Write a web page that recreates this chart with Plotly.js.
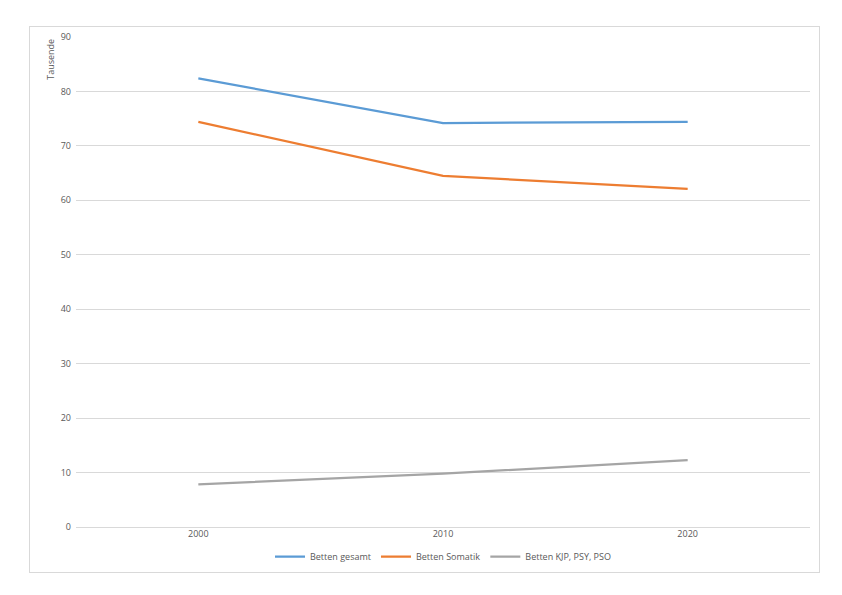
<!DOCTYPE html>
<html>
<head>
<meta charset="utf-8">
<script src="https://cdn.plot.ly/plotly-3.0.1.min.js"></script>
<style>
  html, body { margin: 0; padding: 0; background: #ffffff; }
  #wrap { position: absolute; left: 29px; top: 26px; width: 789px; height: 545px; border: 1px solid #d9d9d9; background: #fff; }
  #chart { width: 789px; height: 545px; }
</style>
</head>
<body>
<div id="wrap"><div id="chart"></div></div>
<script>
const years = ['2000', '2010', '2020'];
const bettenGesamt = [82.4, 74.2, 74.4];
const bettenSomatik = [74.4, 64.5, 62.1];
const bettenKJP = [7.85, 9.8, 12.3];
const seriesNames = ['Betten gesamt', 'Betten Somatik', 'Betten KJP, PSY, PSO'];
const yTicks = [0, 10, 20, 30, 40, 50, 60, 70, 80, 90];

const colors = ['#5B9BD5', '#ED7D31', '#A5A5A5'];
const data = [bettenGesamt, bettenSomatik, bettenKJP].map((vals, i) => ({
  type: 'scatter', mode: 'lines', x: years, y: vals, name: seriesNames[i],
  line: { color: colors[i], width: 2.25 }
}));

const font = { family: 'Open Sans, Lato, sans-serif', size: 9, color: '#595959' };
const layout = {
  width: 789, height: 545,
  margin: { l: 46, r: 9, t: 10, b: 45, autoexpand: false },
  paper_bgcolor: '#ffffff', plot_bgcolor: '#ffffff',
  font: font,
  showlegend: true,
  legend: { orientation: 'h', x: 0.5, xanchor: 'center', yref: 'container', y: 0.028, yanchor: 'middle',
            font: font, itemwidth: 30, tracegroupgap: 0 },
  xaxis: { type: 'category', range: [-0.5, 2.5], showgrid: false, zeroline: false,
           showline: false, ticks: '', tickfont: font, automargin: false },
  yaxis: { range: [0, 90], tickvals: yTicks, showgrid: true, gridcolor: '#d9d9d9', gridwidth: 1,
           zeroline: true, zerolinecolor: '#d9d9d9', zerolinewidth: 1, showline: false, ticks: '',
           ticklabelstandoff: 4, tickfont: font, fixedrange: true, automargin: false },
  annotations: [{
    text: 'Tausende', xref: 'paper', yref: 'paper', x: -0.035, y: 1.0, xanchor: 'center', yanchor: 'top',
    textangle: -90, showarrow: false, font: font
  }]
};

Plotly.newPlot('chart', data, layout, { displayModeBar: false, staticPlot: true });
</script>
</body>
</html>
